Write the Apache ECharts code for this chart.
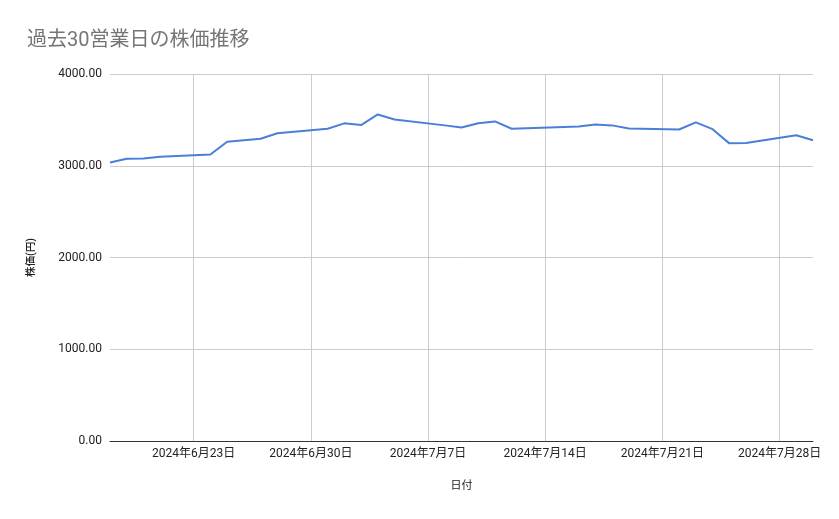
<!DOCTYPE html>
<html>
<head>
<meta charset="utf-8">
<script src="https://cdn.jsdelivr.net/npm/echarts@6/dist/echarts.min.js"></script>
<style>
  html, body { margin: 0; padding: 0; background: #fff; }
  #chart { width: 839px; height: 519px; }
</style>
</head>
<body>
<div id="chart"></div>
<script>
// 過去30営業日（7/15 海の日は休場）
const dates = [
    '2024-06-18', '2024-06-19', '2024-06-20', '2024-06-21',
    '2024-06-24', '2024-06-25', '2024-06-26', '2024-06-27', '2024-06-28',
    '2024-07-01', '2024-07-02', '2024-07-03', '2024-07-04', '2024-07-05',
    '2024-07-08', '2024-07-09', '2024-07-10', '2024-07-11', '2024-07-12',
    '2024-07-16', '2024-07-17', '2024-07-18', '2024-07-19',
    '2024-07-22', '2024-07-23', '2024-07-24', '2024-07-25', '2024-07-26',
    '2024-07-29', '2024-07-30'
];
const prices = [
    3036, 3076, 3079, 3098,
    3123, 3261, 3279, 3294, 3355,
    3403, 3462, 3443, 3559, 3504,
    3440, 3417, 3464, 3483, 3403,
    3428, 3450, 3440, 3406,
    3395, 3472, 3399, 3244, 3247,
    3332, 3278
];
// 目盛り（毎週日曜）
const weekTicks = ['2024-06-23', '2024-06-30', '2024-07-07', '2024-07-14', '2024-07-21', '2024-07-28'];
const yTicks = [0, 1000, 2000, 3000, 4000];

const font = 'Roboto, "Noto Sans CJK JP", sans-serif';
const DAY = 86400000;
// 日付文字列 -> UTC日数
const toDay = s => {
    const p = s.split('-').map(Number);
    return Date.UTC(p[0], p[1] - 1, p[2]) / DAY;
};
const dayLabel = v => {
    const d = new Date(Math.round(v) * DAY);
    return d.getUTCFullYear() + '年' + (d.getUTCMonth() + 1) + '月' + d.getUTCDate() + '日';
};

const chart = echarts.init(document.getElementById('chart'));

chart.setOption({
    animation: false,
    title: {
        text: '過去30営業日の株価推移',
        left: 22,
        top: 26,
        textStyle: { fontFamily: font, fontSize: 20, fontWeight: 'normal', color: '#757575' }
    },
    grid: { left: 110, right: 26, top: 74, bottom: 78 },
    xAxis: {
        type: 'value',
        min: toDay(dates[0]),
        max: toDay(dates[dates.length - 1]),
        name: '日付',
        nameLocation: 'middle',
        nameGap: 40,
        nameTextStyle: { fontFamily: font, fontSize: 11, color: '#222' },
        axisLine: { lineStyle: { color: '#333', width: 1 } },
        axisTick: { show: false, customValues: weekTicks.map(toDay) },
        axisLabel: {
            customValues: weekTicks.map(toDay),
            formatter: dayLabel,
            fontFamily: font, fontSize: 12, color: '#222', margin: 7
        },
        splitLine: { show: true, lineStyle: { color: '#ccc', width: 1 } }
    },
    yAxis: {
        type: 'value',
        min: yTicks[0],
        max: yTicks[yTicks.length - 1],
        interval: 1000,
        name: '株価(円)',
        nameLocation: 'middle',
        nameGap: 73,
        nameTextStyle: { fontFamily: font, fontSize: 10.5, fontWeight: 500, color: '#222' },
        axisLine: { show: false },
        axisTick: { show: false },
        axisLabel: {
            formatter: v => v.toFixed(2),
            fontFamily: font, fontSize: 12, color: '#222', margin: 8
        },
        splitLine: { lineStyle: { color: '#ccc', width: 1 } }
    },
    series: [{
        type: 'line',
        data: dates.map((d, i) => [toDay(d), prices[i]]),
        showSymbol: false,
        lineStyle: { color: '#4a7fd8', width: 2 },
        itemStyle: { color: '#4a7fd8' }
    }]
});
</script>
</body>
</html>
